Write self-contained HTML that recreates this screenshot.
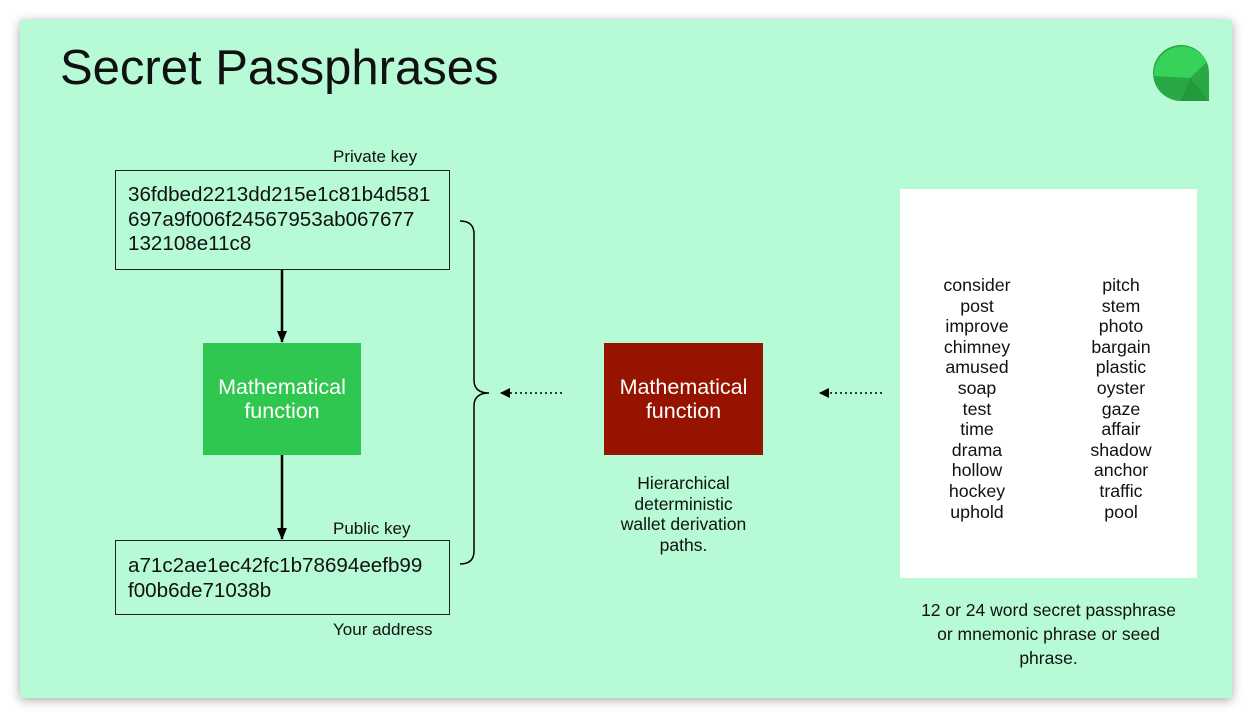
<!DOCTYPE html>
<html><head><meta charset="utf-8"><style>
body{margin:0;width:1252px;height:719px;background:#fff;position:relative;font-family:"Liberation Sans",sans-serif;overflow:hidden}
.slide{position:absolute;left:20px;top:20px;width:1212px;height:678px;background:#b6fbd5;box-shadow:0 2px 10px rgba(0,0,0,.35)}
.a{position:absolute;color:#111}
.box{position:absolute;border:1.5px solid #222;box-sizing:border-box}
.mono{font-size:20.6px;line-height:24.5px;color:#111}
.fn{position:absolute;color:#fff;font-size:21.5px;line-height:24px;text-align:center;display:flex;align-items:center;justify-content:center}
.col{position:absolute;font-size:17.8px;line-height:20.6px;text-align:center;color:#111}
.lbl{font-size:17px}
</style></head><body>
<div class="slide"></div>
<div class="a" style="left:60px;top:40px;font-size:49px;line-height:56px">Secret Passphrases</div>
<svg style="position:absolute;left:1150px;top:42px" width="62" height="62" viewBox="0 0 62 62">
<path d="M59 59 L31 59 A28 28 0 1 1 59 31 Z" fill="#2aa845"/>
<path d="M4 34 A28 28 0 0 1 57 20 L40 36 Z" fill="#35d35a"/>
<path d="M40 36 L59 59 L31 59 Z" fill="#249a3e"/>
</svg>
<div class="a lbl" style="left:333px;top:147px">Private key</div>
<div class="box" style="left:115px;top:170px;width:335px;height:100px"></div>
<div class="a mono" style="left:128px;top:183px">36fdbed2213dd215e1c81b4d581<br>697a9f006f24567953ab067677<br>132108e11c8</div>
<div class="a lbl" style="left:333px;top:519px">Public key</div>
<div class="box" style="left:115px;top:540px;width:335px;height:75px"></div>
<div class="a mono" style="left:128px;top:554px">a71c2ae1ec42fc1b78694eefb99<br>f00b6de71038b</div>
<div class="a lbl" style="left:333px;top:620px">Your address</div>
<div class="fn" style="left:203px;top:343px;width:158px;height:112px;background:#2fc74f">Mathematical<br>function</div>
<div class="fn" style="left:604px;top:343px;width:159px;height:112px;background:#961300">Mathematical<br>function</div>
<div class="a" style="left:590px;top:473px;width:187px;text-align:center;font-size:17.5px;line-height:20.5px">Hierarchical<br>deterministic<br>wallet derivation<br>paths.</div>
<div style="position:absolute;left:900px;top:189px;width:297px;height:389px;background:#fff"></div>
<div class="col" style="left:917px;top:275px;width:120px">consider<br>post<br>improve<br>chimney<br>amused<br>soap<br>test<br>time<br>drama<br>hollow<br>hockey<br>uphold</div>
<div class="col" style="left:1061px;top:275px;width:120px">pitch<br>stem<br>photo<br>bargain<br>plastic<br>oyster<br>gaze<br>affair<br>shadow<br>anchor<br>traffic<br>pool</div>
<div class="a" style="left:880px;top:598px;width:337px;text-align:center;font-size:17.5px;line-height:24px">12 or 24 word secret passphrase<br>or mnemonic phrase or seed<br>phrase.</div>
<svg style="position:absolute;left:0;top:0" width="1252" height="719">
<defs><marker id="m" markerWidth="10" markerHeight="10" refX="9" refY="5" orient="auto" markerUnits="userSpaceOnUse"><path d="M0 0 L10 5 L0 10Z" fill="#000"/></marker>
<marker id="s" markerWidth="12" markerHeight="12" refX="11" refY="6" orient="auto" markerUnits="userSpaceOnUse"><path d="M0 1 L12 6 L0 11Z" fill="#000"/></marker></defs>
<line x1="282" y1="270" x2="282" y2="342" stroke="#000" stroke-width="2.5" marker-end="url(#s)"/>
<line x1="282" y1="455" x2="282" y2="539" stroke="#000" stroke-width="2.5" marker-end="url(#s)"/>
<path d="M460 221 Q474 221 474 234 L474 380 Q474 393 489 393 Q474 393 474 406 L474 551 Q474 564 460 564" fill="none" stroke="#000" stroke-width="1.5"/>
<line x1="562" y1="393" x2="501" y2="393" stroke="#000" stroke-width="1.5" stroke-dasharray="2 3" marker-end="url(#m)"/>
<line x1="882" y1="393" x2="820" y2="393" stroke="#000" stroke-width="1.5" stroke-dasharray="2 3" marker-end="url(#m)"/>
</svg>
</body></html>
